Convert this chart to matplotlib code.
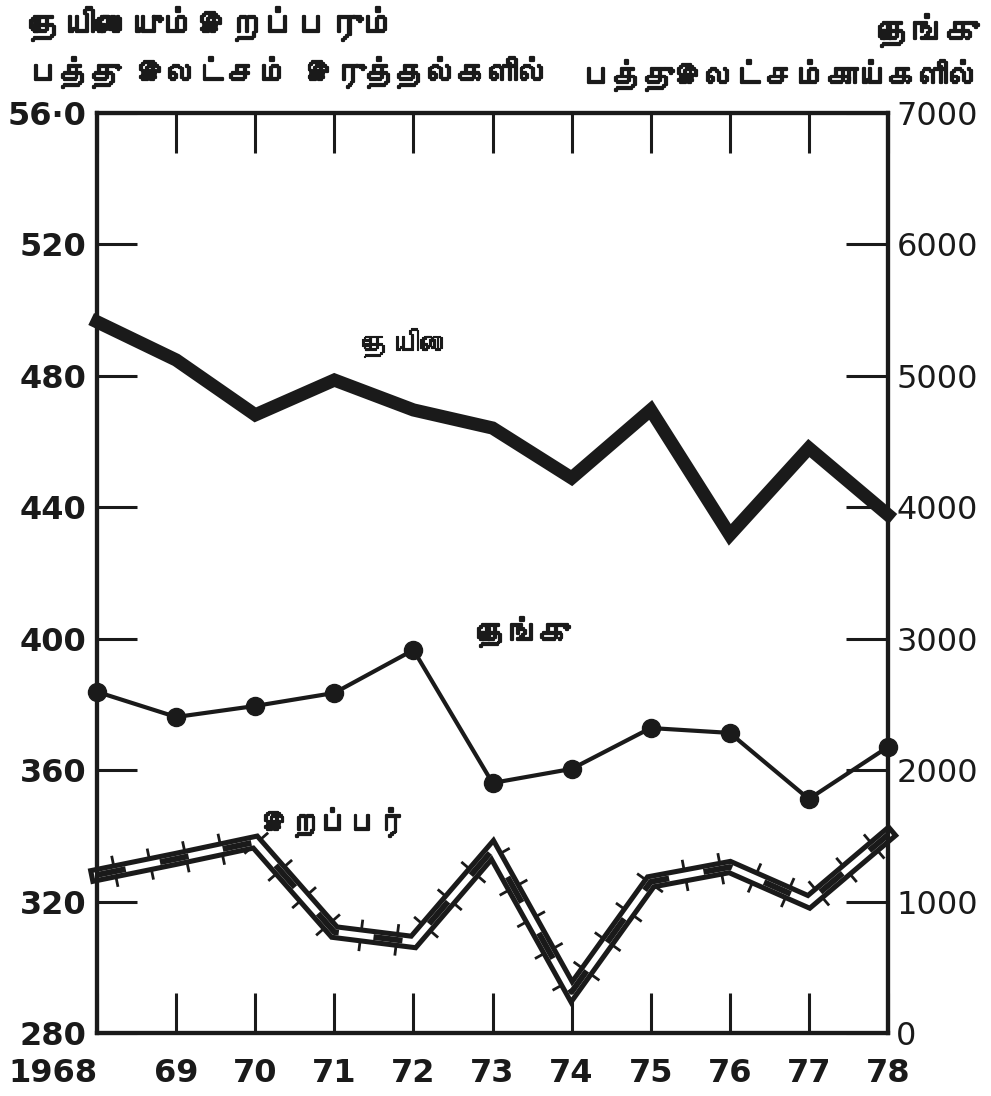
import matplotlib
matplotlib.use("Agg")
import matplotlib.pyplot as plt
import matplotlib.patheffects as pe
from matplotlib import font_manager, ft2font

# data
years = [1968, 1969, 1970, 1971, 1972, 1973, 1974, 1975, 1976, 1977, 1978]
year_labels = ['1968', '69', '70', '71', '72', '73', '74', '75', '76', '77', '78']
tea = [496.4, 484.8, 468.1, 478.7, 469.6, 464.1, 448.9, 469.6, 431.6, 458.0, 437.7]       # million lb
rubber = [328.1, 333.0, 338.1, 310.7, 307.7, 335.7, 292.5, 326.0, 330.5, 319.9, 340.3]    # million lb
coconut = [2595, 2404, 2488, 2587, 2914, 1902, 2009, 2320, 2283, 1780, 2176]              # million nuts
left_ticks = [280, 320, 360, 400, 440, 480, 520, 560]
left_labels = ['280', '320', '360', '400', '440', '480', '520', '56·0']
right_ticks = [0, 1000, 2000, 3000, 4000, 5000, 6000, 7000]

# look for any installed font that can draw Tamil
tamil = None
for f in font_manager.fontManager.ttflist:
    try:
        if 0x0BA4 in ft2font.FT2Font(f.fname).get_charmap():
            tamil = f.name
            break
    except Exception:
        pass
tfam = [tamil, 'DejaVu Sans'] if tamil else ['DejaVu Sans']

plt.rcParams['font.family'] = ['DejaVu Sans']
ink = '#1a1a1a'
heavy = [pe.withStroke(linewidth=1.6, foreground=ink)]   # printed Tamil is heavy
medium = [pe.withStroke(linewidth=0.8, foreground=ink)]

fig = plt.figure(figsize=(9.91, 10.96), dpi=100)
ax = fig.add_axes([0.098, 0.0575, 0.798, 0.8395])
ax2 = ax.twinx()

ax.set_xlim(1968, 1978)
ax.set_ylim(280, 560)
ax2.set_ylim(0, 7000)

# tea - heavy line
ax.plot(years, tea, color=ink, lw=9.5, solid_joinstyle='miter', zorder=3, clip_on=False)

# rubber - hollow "railway" line with cross ticks
ax.plot(years, rubber, color=ink, lw=11.5, solid_joinstyle='miter', zorder=3, clip_on=False,
        path_effects=[pe.TickedStroke(spacing=26, angle=90, length=0.4, linewidth=2, foreground=ink),
                      pe.TickedStroke(spacing=26, angle=-90, length=0.4, linewidth=2, foreground=ink),
                      pe.Normal()])
ax.plot(years, rubber, color='white', lw=4.2, solid_joinstyle='miter', zorder=4, clip_on=False)
ax.plot(years, rubber, color=ink, lw=4.2, dashes=(5, 6), zorder=5, clip_on=False)

# coconut - thin line with dots
ax2.plot(years, coconut, color=ink, lw=3, marker='o', markersize=13, zorder=3, clip_on=False)

for a in (ax, ax2):
    for s in a.spines.values():
        s.set_linewidth(3)
        s.set_color(ink)

ax.set_xticks(years)
ax.set_xticklabels(year_labels)
ax.set_yticks(left_ticks)
ax.set_yticklabels(left_labels)
ax2.set_yticks(right_ticks)

ax.tick_params(axis='x', direction='in', length=29, width=2.2, top=True, bottom=True,
               color=ink, labelsize=23, labelcolor=ink, pad=18)
ax.tick_params(axis='y', direction='in', length=29, width=2.2, color=ink,
               labelsize=23, labelcolor=ink, pad=8)
ax2.tick_params(axis='y', direction='in', length=30, width=2.2, color=ink,
                labelsize=23, labelcolor=ink, pad=6)
for lab in ax.get_xticklabels() + ax.get_yticklabels():
    lab.set_fontweight('bold')
ax.get_xticklabels()[0].set_horizontalalignment('right')
ax.get_xticklabels()[0].set_x(1968.1)

# axis titles
fig.text(0.03, 0.978, 'தேயிலையும்இறப்பரும்', family=tfam, fontsize=24, fontweight='bold',
         color=ink, ha='left', va='center', path_effects=heavy)
fig.text(0.03, 0.934, 'பத்து இலட்சம் இருத்தல்களில்', family=tfam, fontsize=22, fontweight='bold',
         color=ink, ha='left', va='center', path_effects=heavy)
fig.text(0.988, 0.972, 'தெங்கு', family=tfam, fontsize=24, fontweight='bold',
         color=ink, ha='right', va='center', path_effects=heavy)
fig.text(0.988, 0.931, 'பத்துஇலட்சம்காய்களில்', family=tfam, fontsize=22, fontweight='bold',
         color=ink, ha='right', va='center', path_effects=heavy)

# series names
ax.text(1971.9, 490, 'தேயிலை', family=tfam, fontsize=21, color=ink, ha='center', va='center',
        path_effects=medium)
ax.text(1973.4, 402, 'தெங்கு', family=tfam, fontsize=22, color=ink, ha='center', va='center',
        path_effects=heavy)
ax.text(1971.0, 344, 'இறப்பர்', family=tfam, fontsize=21, color=ink, ha='center', va='center',
        path_effects=heavy)

fig.savefig('out.png', dpi=100, facecolor='white')
